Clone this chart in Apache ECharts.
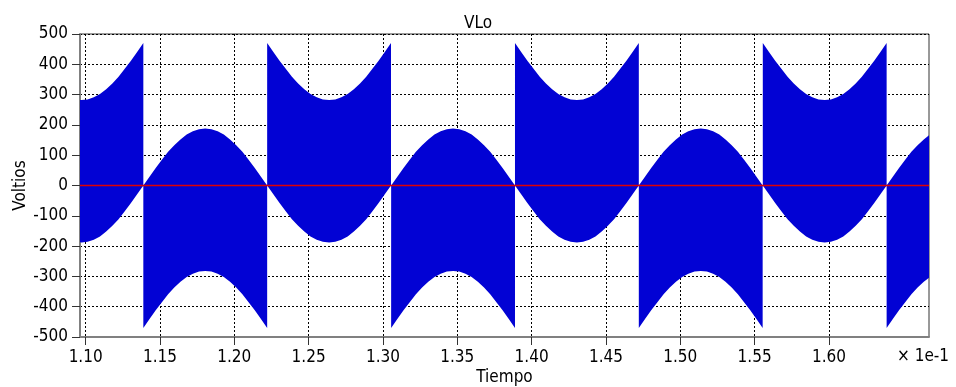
<!DOCTYPE html>
<html><head><meta charset="utf-8">
<script src="https://cdn.jsdelivr.net/npm/echarts@6/dist/echarts.min.js"></script>
<style>html,body{margin:0;padding:0;background:#fff}#c{width:956px;height:387px}</style>
</head><body><div id="c"></div>
<script>
// Segment boundaries (×1e-1 s) where the switching band jumps polarity
const segmentStarts = [1.0555, 1.1388, 1.2221, 1.3055, 1.3888, 1.4721, 1.5555, 1.6388];
const segmentLength = 0.0833;
const segmentTypes = ['neg', 'pos', 'neg', 'pos', 'neg', 'pos', 'neg', 'pos'];
// Envelope values read at 21 equally spaced points across one segment (V)
const posUpper = [0, 29, 58, 85, 111, 133, 152, 168, 179, 186, 188, 186, 179, 168, 152, 133, 111, 85, 58, 29, 0];
const posLower = [-470, -441, -412, -385, -359, -337, -318, -302, -291, -284, -282, -284, -291, -302, -318, -337, -359, -385, -412, -441, -470];
const negUpper = [470, 441, 412, 385, 359, 337, 318, 302, 291, 284, 282, 284, 291, 302, 318, 337, 359, 385, 412, 441, 470];
const negLower = [0, -29, -58, -85, -111, -133, -152, -168, -179, -186, -188, -186, -179, -168, -152, -133, -111, -85, -58, -29, 0];
// Tick labels on the time axis
const xTickLabels = [1.10, 1.15, 1.20, 1.25, 1.30, 1.35, 1.40, 1.45, 1.50, 1.55, 1.60];
// Zero reference level (V)
const zeroLevel = 0;
const xMin = 1.0962, xMax = 1.6673;
const yMin = -500, yMax = 500, yStep = 100;

const FONT = "'DejaVu Sans Condensed','DejaVu Sans',sans-serif";
const chart = echarts.init(document.getElementById('c'), null, {renderer: 'canvas'});
chart.setOption({
  animation: false,
  backgroundColor: '#fff',
  title: {text: 'VLo', left: 'center', top: 10, textStyle: {fontFamily: FONT, fontSize: 17, fontWeight: 'normal', color: '#000'}},
  grid: {left: 80, right: 27, top: 34, bottom: 50, outerBoundsMode: 'none', containLabel: false,
         show: true, borderColor: '#333', borderWidth: 1, backgroundColor: 'transparent'},
  xAxis: {
    type: 'value', min: xMin, max: xMax, splitNumber: 11,
    name: 'Tiempo', nameLocation: 'middle', nameGap: 32, nameMoveOverlap: false,
    nameTextStyle: {fontFamily: FONT, fontSize: 17, color: '#000'},
    axisLine: {show: true, onZero: false, lineStyle: {color: '#808080', width: 2}},
    axisTick: {show: true, length: 8, customValues: xTickLabels, lineStyle: {color: '#333'}},
    axisLabel: {customValues: xTickLabels, margin: 12, fontFamily: FONT, fontSize: 17, color: '#000', formatter: v => v.toFixed(2)},
    splitLine: {show: true, lineStyle: {color: '#000', type: [2, 2], width: 1}}
  },
  yAxis: {
    type: 'value', min: yMin, max: yMax, interval: yStep,
    name: 'Voltios', nameLocation: 'middle', nameGap: 51, nameRotate: 90, nameMoveOverlap: false,
    nameTextStyle: {fontFamily: FONT, fontSize: 17, color: '#000'},
    axisLine: {show: true, lineStyle: {color: '#808080', width: 2}},
    axisTick: {show: true, length: 8, lineStyle: {color: '#333'}},
    axisLabel: {margin: 12, fontFamily: FONT, fontSize: 17, color: '#000'},
    splitLine: {show: true, lineStyle: {color: '#000', type: [2, 2], width: 1}}
  },
  graphic: [{type: 'text', left: 897, top: 348, style: {text: '× 1e-1', fontFamily: FONT, fontSize: 17, fill: '#000'}}],
  series: [{
    type: 'custom',
    clip: true,
    data: segmentStarts.map((s, i) => [s, 0, i]),
    encode: {x: 0, y: 1},
    renderItem: function (params, api) {
      const idx = api.value(2);
      const start = segmentStarts[idx];
      const up = segmentTypes[idx] === 'pos' ? posUpper : negUpper;
      const lo = segmentTypes[idx] === 'pos' ? posLower : negLower;
      const n = up.length;
      const pts = [];
      for (let i = 0; i < n; i++) pts.push(api.coord([start + segmentLength * i / (n - 1), up[i]]));
      for (let i = n - 1; i >= 0; i--) pts.push(api.coord([start + segmentLength * i / (n - 1), lo[i]]));
      return {type: 'polygon', shape: {points: pts}, style: {fill: '#0202d4'}};
    },
    z: 3
  }, {
    type: 'line',
    data: [[xMin, zeroLevel], [xMax, zeroLevel]],
    symbol: 'none', silent: true,
    lineStyle: {color: '#e00000', width: 1.5, opacity: 1},
    z: 10
  }]
});
</script></body></html>
